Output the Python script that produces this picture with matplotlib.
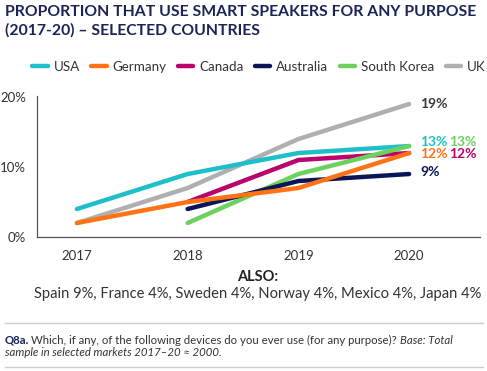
import numpy as np
import matplotlib
matplotlib.use("Agg")
import matplotlib.pyplot as plt
from matplotlib.lines import Line2D

years = [2017, 2018, 2019, 2020]
countries = ["USA", "Germany", "Canada", "Australia", "South Korea", "UK"]
usa = [4, 9, 12, 13]
germany = [2, 5, 7, 12]
canada = [np.nan, 5, 11, 12]
australia = [np.nan, 4, 8, 9]
south_korea = [np.nan, 2, 9, 13]
uk = [2, 7, 14, 19]
yticks = [0, 10, 20]
ytick_labels = ["0%", "10%", "20%"]

colors = {"USA": "#1DC0C8", "Germany": "#FF7314", "Canada": "#B8046C",
          "Australia": "#0B1659", "South Korea": "#6DD15E", "UK": "#AFAFAF"}
series = {"USA": usa, "Germany": germany, "Canada": canada,
          "Australia": australia, "South Korea": south_korea, "UK": uk}

plt.rcParams['font.family'] = ['Lato', 'DejaVu Sans']

W, H = 487, 371
fig = plt.figure(figsize=(W/100, H/100), dpi=100)
ax = fig.add_axes([37/W, (H-237)/H, (480-37)/W, (237-96)/H])

draw_order = ["UK", "USA", "Canada", "South Korea", "Australia", "Germany"]
for c in draw_order:
    ax.plot(years, series[c], color=colors[c], lw=3.2, solid_capstyle='round',
            solid_joinstyle='round', zorder=3)

ax.set_xlim(2016.64, 2020.64)
ax.set_ylim(0, 20.15)
ax.set_xticks(years)
ax.set_xticklabels([str(y) for y in years])
ax.set_yticks(yticks)
ax.set_yticklabels(ytick_labels)
ax.tick_params(length=0, labelsize=9.5, colors="#333333", pad=8)
ax.tick_params(axis='x', pad=9)
for s in ["top", "right"]:
    ax.spines[s].set_visible(False)
for s in ["left", "bottom"]:
    ax.spines[s].set_color("#555555")
    ax.spines[s].set_linewidth(0.9)

last = 3
def lab(x_off_px, val, text, color, dy=0):
    ax.annotate(text, (years[last], val), xytext=(x_off_px, dy), textcoords='offset pixels',
                ha='left', va='center', fontsize=10, fontweight='bold', color=color)

lab(11, uk[last], f"{uk[last]}%", "#3A3A3A")
lab(11, usa[last], f"{usa[last]}%", colors["USA"], dy=4)
lab(40, south_korea[last], f"{south_korea[last]}%", colors["South Korea"], dy=4)
lab(11, germany[last], f"{germany[last]}%", colors["Germany"], dy=-1)
lab(40, canada[last], f"{canada[last]}%", colors["Canada"], dy=-1)
lab(11, australia[last], f"{australia[last]}%", colors["Australia"], dy=2)

handles = [Line2D([0], [0], color=colors[c], lw=3.2, solid_capstyle='round') for c in countries]
fig.legend(handles, countries, loc='center', bbox_to_anchor=(259/W, (H-67)/H), ncol=6,
           frameon=False, handlelength=1.15, handletextpad=0.45, columnspacing=0.85,
           fontsize=9.6, labelcolor="#333333", borderpad=0, borderaxespad=0)

fig.text(5/W, (H-12)/H, "PROPORTION THAT USE SMART SPEAKERS FOR ANY PURPOSE",
         fontsize=11.3, fontweight='bold', color="#1A2456", ha='left', va='center')
fig.text(5/W, (H-30)/H, "(2017-20) \u2013 SELECTED COUNTRIES",
         fontsize=11.3, fontweight='bold', color="#1A2456", ha='left', va='center')

fig.text(258/W, (H-277)/H, "ALSO:", fontsize=10.5, fontweight='bold', color="#222222",
         ha='center', va='center')
fig.text(258/W, (H-294)/H,
         "Spain 9%, France 4%, Sweden 4%, Norway 4%, Mexico 4%, Japan 4%",
         fontsize=10.6, color="#333333", ha='center', va='center')

fig.add_artist(Line2D([5/W, 483/W], [(H-323)/H]*2, color="#CCCCCC", lw=1))
fig.add_artist(Line2D([5/W, 483/W], [(H-367)/H]*2, color="#CCCCCC", lw=1))

fs = 8.2
renderer = fig.canvas.get_renderer()
t1 = fig.text(5/W, (H-340)/H, "Q8a.", fontsize=fs, fontweight='bold', color="#1A2456",
              ha='left', va='center')
x1 = t1.get_window_extent(renderer).x1 + 2
t2 = fig.text(x1/W, (H-340)/H,
              "Which, if any, of the following devices do you ever use (for any purpose)?",
              fontsize=fs, color="#333333", ha='left', va='center')
x2 = t2.get_window_extent(renderer).x1 + 3
fig.text(x2/W, (H-340)/H, "Base: Total", fontsize=fs, style='italic', color="#333333",
         ha='left', va='center')
fig.text(5/W, (H-352)/H, "sample in selected markets 2017\u201320 \u2248 2000.",
         fontsize=fs, style='italic', color="#333333", ha='left', va='center')

fig.savefig("out.png", dpi=100)
